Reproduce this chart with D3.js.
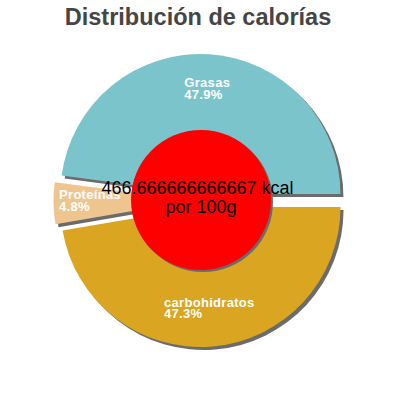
<!DOCTYPE html>
<html>
<head>
<meta charset="utf-8">
<script src="https://cdn.jsdelivr.net/npm/d3@7"></script>
<style>
html,body{margin:0;padding:0;background:#fff;}
svg{display:block;}
</style>
</head>
<body>
<svg id="chart" width="400" height="400"></svg>
<script>
const title = "Distribución de calorías";
const categories = ["Grasas", "Proteínas", "carbohidratos"];
const percents = [47.9, 4.8, 47.3];
const colors = ["#7bc4cc", "#efc58f", "#daa520"];
const energyValue = "466.666666666667";
const energyUnit = "kcal";
const centerSub = "por 100g";

const svg = d3.select("#chart");
const cx = 200, cy = 200.5, R = 140, explode = 6.5;

svg.append("text")
  .attr("x", 198).attr("y", 25)
  .attr("text-anchor", "middle")
  .attr("font-family", "'Liberation Sans', Arial, sans-serif")
  .attr("font-weight", "bold")
  .attr("font-size", 23.5)
  .attr("fill", "#454545")
  .text(title);

const data = categories.map((c, i) => ({name: c, value: percents[i], color: colors[i]}));
const pie = d3.pie().sort(null).value(d => d.value)
  .startAngle(Math.PI / 2).endAngle(Math.PI / 2 - 2 * Math.PI);
const arcs = pie(data);
const arc = d3.arc().innerRadius(0).outerRadius(R);

const g = svg.append("g").attr("transform", `translate(${cx},${cy})`);

function off(d) {
  const m = (d.startAngle + d.endAngle) / 2;
  return [Math.sin(m) * explode, -Math.cos(m) * explode];
}

g.selectAll("path.shadow").data(arcs).join("path")
  .attr("class", "shadow")
  .attr("d", arc)
  .attr("fill", "#6b6b6b")
  .attr("transform", d => { const o = off(d); return `translate(${o[0] + 3},${o[1] + 3})`; });

g.selectAll("path.slice").data(arcs).join("path")
  .attr("class", "slice")
  .attr("d", arc)
  .attr("fill", d => d.data.color)
  .attr("transform", d => { const o = off(d); return `translate(${o[0]},${o[1]})`; });

const labelR = 103.5;
arcs.forEach(d => {
  const m = (d.startAngle + d.endAngle) / 2;
  const o = off(d);
  const px = o[0] + Math.sin(m) * labelR;
  const py = o[1] - Math.cos(m) * labelR;
  const t = g.append("g");
  const lines = [d.data.name, d.data.value.toFixed(1) + "%"];
  const texts = lines.map((s, i) => t.append("text")
    .attr("y", py - 3.5 + i * 11.5)
    .attr("font-family", "'Liberation Sans', Arial, sans-serif")
    .attr("font-weight", "bold")
    .attr("font-size", 13)
    .attr("letter-spacing", 0.3)
    .attr("fill", "#ffffff")
    .text(s));
  const wmax = d3.max(texts, tx => tx.node().getComputedTextLength());
  texts.forEach(tx => tx.attr("x", px - wmax / 2));
});

const rc = 70, ccx = 1, ccy = -0.5;
g.append("circle").attr("cx", ccx + 2).attr("cy", ccy + 2).attr("r", rc).attr("fill", "#6b6b6b");
g.append("circle").attr("cx", ccx).attr("cy", ccy).attr("r", rc).attr("fill", "#ff0000");

g.append("text")
  .attr("x", -2.5).attr("y", -6.2)
  .attr("text-anchor", "middle")
  .attr("font-family", "'Liberation Sans', Arial, sans-serif")
  .attr("font-size", 18)
  .attr("fill", "#000")
  .text(energyValue + " " + energyUnit);
g.append("text")
  .attr("x", 1).attr("y", 12.5)
  .attr("text-anchor", "middle")
  .attr("font-family", "'Liberation Sans', Arial, sans-serif")
  .attr("font-size", 18)
  .attr("fill", "#000")
  .text(centerSub);
</script>
</body>
</html>
